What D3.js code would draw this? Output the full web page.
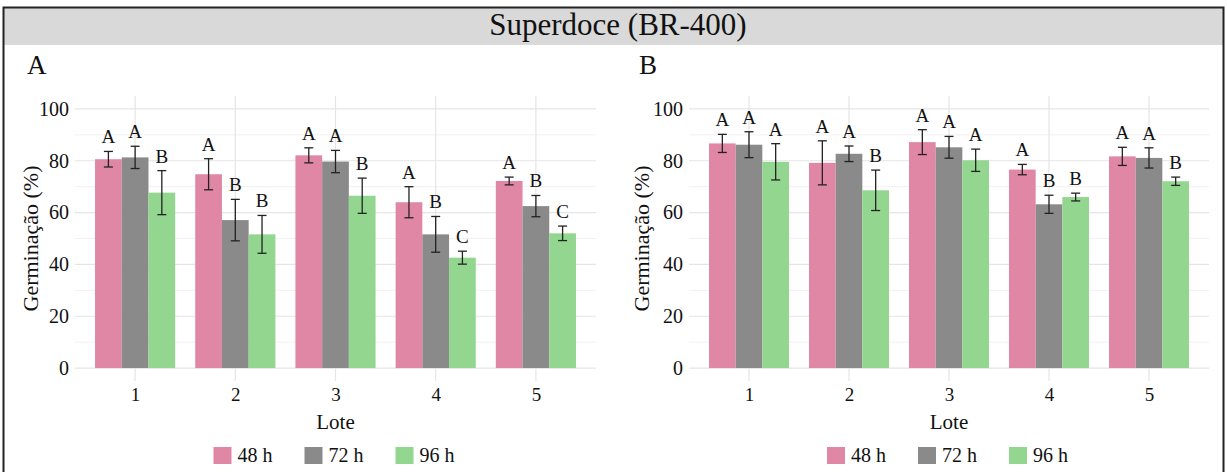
<!DOCTYPE html>
<html>
<head>
<meta charset="utf-8">
<script src="https://cdn.jsdelivr.net/npm/d3@7"></script>
<style>
  body { margin: 0; background: #fff; }
  svg { display: block; }
  text { font-family: "Liberation Serif", "Times New Roman", serif; fill: #111; }
</style>
</head>
<body>
<svg id="chart" width="1227" height="472"></svg>
<script>
// ---- data ----
const lotes = ["1", "2", "3", "4", "5"];
const periods = ["48 h", "72 h", "96 h"];
const yTicks = [0, 20, 40, 60, 80, 100];
const yMinor = [10, 30, 50, 70, 90];
const periodColors = ["#e087a6", "#8a8a8a", "#93d690"];

// Panel A
const meanA48 = [80.6, 74.8, 82.1, 64.0, 72.2];
const sdA48   = [3.0, 6.0, 2.9, 6.0, 1.5];
const letA48  = ["A", "A", "A", "A", "A"];
const meanA72 = [81.3, 57.1, 79.7, 51.6, 62.5];
const sdA72   = [4.3, 8.0, 4.3, 6.9, 4.1];
const letA72  = ["A", "B", "A", "B", "B"];
const meanA96 = [67.7, 51.6, 66.5, 42.6, 52.0];
const sdA96   = [8.5, 7.3, 6.8, 2.5, 2.8];
const letA96  = ["B", "B", "B", "C", "C"];

// Panel B
const meanB48 = [86.7, 79.2, 87.2, 76.6, 81.7];
const sdB48   = [3.5, 8.5, 4.8, 2.0, 3.5];
const letB48  = ["A", "A", "A", "A", "A"];
const meanB72 = [86.2, 82.7, 85.2, 63.2, 81.1];
const sdB72   = [5.0, 3.0, 4.2, 3.5, 3.9];
const letB72  = ["A", "A", "A", "B", "A"];
const meanB96 = [79.6, 68.6, 80.2, 66.0, 72.1];
const sdB96   = [7.0, 7.8, 4.3, 1.5, 1.6];
const letB96  = ["A", "B", "A", "B", "B"];

function buildRows(means, sds, lets) {
  const rows = [];
  lotes.forEach((l, i) => {
    periods.forEach((p, j) => {
      rows.push({ lote: l, period: p, mean: means[j][i], sd: sds[j][i], letter: lets[j][i] });
    });
  });
  return rows;
}
const rowsA = buildRows([meanA48, meanA72, meanA96], [sdA48, sdA72, sdA96], [letA48, letA72, letA96]);
const rowsB = buildRows([meanB48, meanB72, meanB96], [sdB48, sdB72, sdB96], [letB48, letB72, letB96]);

// ---- layout ----
const W = 1227, H = 472;
const svg = d3.select("#chart");

// frame + header strip
svg.append("rect").attr("x", 3).attr("y", 8).attr("width", W - 6).attr("height", 37)
  .attr("fill", "#d9d9d9");
svg.append("rect").attr("x", 3.5).attr("y", 7.5).attr("width", W - 7).attr("height", H + 10)
  .attr("fill", "none").attr("stroke", "#222").attr("stroke-width", 2);
svg.append("text").attr("x", 618).attr("y", 35).attr("text-anchor", "middle")
  .style("font-size", "31px").text("Superdoce (BR-400)");

const colour = d3.scaleOrdinal().domain(periods).range(periodColors);

function drawPanel(rows, opt) {
  const g = svg.append("g");
  // discrete axis with 0.6-unit expansion on each side
  const x = d3.scalePoint().domain(lotes).range([opt.x0, opt.x1]).padding(0.6);
  const step = x.step();
  const xInner = d3.scaleBand().domain(periods).range([-step * 0.4, step * 0.4]);
  const y = d3.scaleLinear().domain([-5, 105]).range([opt.yBottom, opt.yTop]);

  // grid
  g.selectAll(".minor").data(yMinor).join("line")
    .attr("x1", opt.x0).attr("x2", opt.x1)
    .attr("y1", d => y(d)).attr("y2", d => y(d))
    .attr("stroke", "#f1f1f1").attr("stroke-width", 1);
  g.selectAll(".major").data(yTicks).join("line")
    .attr("x1", opt.x0).attr("x2", opt.x1)
    .attr("y1", d => y(d)).attr("y2", d => y(d))
    .attr("stroke", "#e5e5e5").attr("stroke-width", 1.2);
  g.selectAll(".vgrid").data(lotes).join("line")
    .attr("x1", d => x(d)).attr("x2", d => x(d))
    .attr("y1", opt.yTop).attr("y2", opt.yBottom)
    .attr("stroke", "#e5e5e5").attr("stroke-width", 1.2);

  // y axis labels
  const yAxis = d3.axisLeft(y).tickValues(yTicks).tickSize(0).tickPadding(6);
  const ya = g.append("g").attr("transform", `translate(${opt.x0},0)`).call(yAxis);
  ya.select(".domain").remove();
  ya.selectAll("text").style("font-size", "20px").attr("fill", "#111")
    .style("font-family", "Liberation Serif");

  // x axis labels
  const xAxis = d3.axisBottom(x).tickSize(0).tickPadding(7);
  const xa = g.append("g").attr("transform", `translate(0,${opt.yBottom})`).call(xAxis);
  xa.select(".domain").remove();
  xa.selectAll("text").style("font-size", "19px").attr("fill", "#111")
    .style("font-family", "Liberation Serif");

  // bars
  g.selectAll(".bar").data(rows).join("rect")
    .attr("x", d => x(d.lote) + xInner(d.period))
    .attr("width", xInner.bandwidth())
    .attr("y", d => y(d.mean))
    .attr("height", d => y(0) - y(d.mean))
    .attr("fill", d => colour(d.period));

  // error bars (mean ± sd)
  const capW = 4.5;
  const eb = g.selectAll(".err").data(rows).join("g")
    .attr("transform", d => `translate(${x(d.lote) + xInner(d.period) + xInner.bandwidth() / 2},0)`);
  eb.append("line").attr("x1", 0).attr("x2", 0)
    .attr("y1", d => y(d.mean - d.sd)).attr("y2", d => y(d.mean + d.sd))
    .attr("stroke", "#222").attr("stroke-width", 1.3);
  eb.append("line").attr("x1", -capW).attr("x2", capW)
    .attr("y1", d => y(d.mean + d.sd)).attr("y2", d => y(d.mean + d.sd))
    .attr("stroke", "#222").attr("stroke-width", 1.3);
  eb.append("line").attr("x1", -capW).attr("x2", capW)
    .attr("y1", d => y(d.mean - d.sd)).attr("y2", d => y(d.mean - d.sd))
    .attr("stroke", "#222").attr("stroke-width", 1.3);

  // significance letters
  g.selectAll(".let").data(rows).join("text")
    .attr("x", d => x(d.lote) + xInner(d.period) + xInner.bandwidth() / 2)
    .attr("y", d => y(d.mean + d.sd) - 8)
    .attr("text-anchor", "middle").style("font-size", "19px").text(d => d.letter);

  // titles
  const midX = (opt.x0 + opt.x1) / 2;
  g.append("text").attr("x", midX).attr("y", 429)
    .attr("text-anchor", "middle").style("font-size", "21px").text("Lote");
  g.append("text")
    .attr("transform", `translate(${opt.yTitleX},${(opt.yTop + opt.yBottom) / 2}) rotate(-90)`)
    .attr("text-anchor", "middle").style("font-size", "22px").text("Germinação (%)");
  g.append("text").attr("x", opt.tagX).attr("y", 74).style("font-size", "27px").text(opt.tag);

  // legend
  const keyStep = 91;
  const legX0 = midX - 122;
  const lg = g.selectAll(".leg").data(periods).join("g")
    .attr("transform", (d, i) => `translate(${legX0 + i * keyStep},447)`);
  lg.append("rect").attr("width", 18).attr("height", 17).attr("fill", d => colour(d));
  lg.append("text").attr("x", 24).attr("y", 15).style("font-size", "20px").text(d => d);
}

drawPanel(rowsA, { x0: 75, x1: 596, yTop: 96, yBottom: 381, yTitleX: 38, tagX: 27, tag: "A" });
drawPanel(rowsB, { x0: 689, x1: 1209, yTop: 96, yBottom: 381, yTitleX: 649, tagX: 639, tag: "B" });
</script>
</body>
</html>
